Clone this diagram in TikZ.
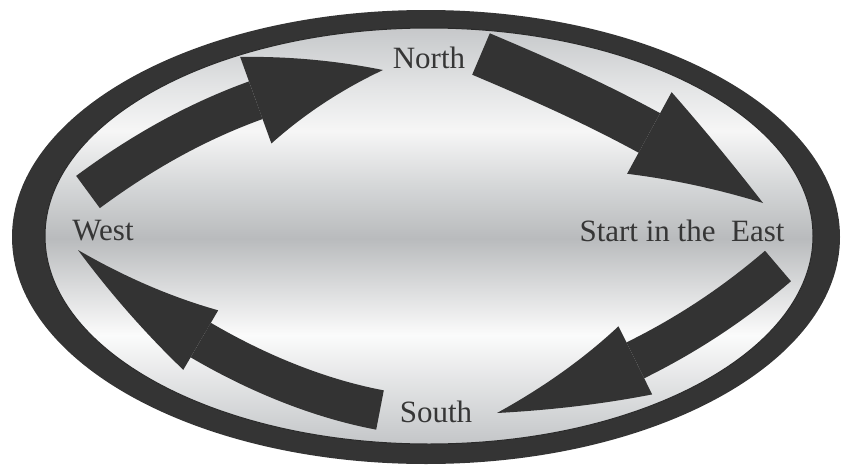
\documentclass[tikz,border=0pt]{standalone}
\usepackage{fontspec}
\setmainfont{Liberation Serif}
\usetikzlibrary{arrows.meta,bending}

\definecolor{anillo}{HTML}{343434}
\definecolor{bordeint}{HTML}{2A2A2A}
\definecolor{flechagris}{HTML}{333333}
\definecolor{texto}{HTML}{363636}
\definecolor{plA}{HTML}{C4C6C8}
\definecolor{plB}{HTML}{CBCDCF}
\definecolor{plC}{HTML}{E4E5E6}
\definecolor{plD}{HTML}{FBFBFB}
\definecolor{plE}{HTML}{D9DADB}
\definecolor{plF}{HTML}{B9BBBD}
\definecolor{plG}{HTML}{D5D7D8}
\definecolor{plH}{HTML}{F6F6F6}
\definecolor{plI}{HTML}{E3E4E5}
\definecolor{plJ}{HTML}{C6C8CA}

\pgfdeclareverticalshading{plata}{100bp}{%
  color(0bp)=(plA); color(25bp)=(plA); color(26.7bp)=(plB);
  color(32.7bp)=(plC); color(38.1bp)=(plD); color(44.1bp)=(plE);
  color(49.7bp)=(plF); color(56.1bp)=(plG); color(62.6bp)=(plH);
  color(68bp)=(plI); color(75bp)=(plJ); color(100bp)=(plJ)}

\begin{document}
\begin{tikzpicture}[
            x=1pt, y=-1pt,
            etiqueta/.style={
                font=\fontsize{31}{31}\selectfont,
                text=texto,
                inner sep=0pt,
                anchor=base
            },
            flecha/.style n args={3}{
                draw=flechagris,
                line width=#1,
                -{Triangle[bend, length=#2, width=#3, line width=0pt]}
            }
        ]
        \useasboundingbox (0,0) rectangle (841,466);

        % Elipse
        \fill[anillo] (426,237) ellipse [x radius=414, y radius=227];
        \shade[shading=plata, draw=bordeint, line width=1pt]
            (429,236) ellipse [x radius=384, y radius=208];

        % Etiquetas
        \node[etiqueta] (north) at (429,68)  {North};
        \node[etiqueta] (west)  at (103,240) {West};
        \node[etiqueta] (east)  at (682,241) {Start in the\ \ East};
        \node[etiqueta] (south) at (436,422) {South};

        % Extremos de las flechas
        \coordinate (t1) at (88,192);
        \coordinate (h1) at (383,70);
        \coordinate (t2) at (481,54);
        \coordinate (h2) at (763,203);
        \coordinate (t3) at (778,266);
        \coordinate (h3) at (497,413);
        \coordinate (t4) at (380,410);
        \coordinate (h4) at (78,250);

        % Flechas
        \draw[flecha={40pt}{139pt}{92pt}] (t1) .. controls (165,135) and (260,85) .. (h1);
        \draw[flecha={45pt}{146pt}{93pt}] (t2) .. controls (561,88) and (653,127) .. (h2);
        \draw[flecha={40pt}{165pt}{76pt}] (t3) .. controls (715,320) and (630,375) .. (h3);
        \draw[flecha={40pt}{167pt}{69pt}] (t4) .. controls (300,395) and (190,350) .. (h4);

        \end{tikzpicture}
\end{document}
